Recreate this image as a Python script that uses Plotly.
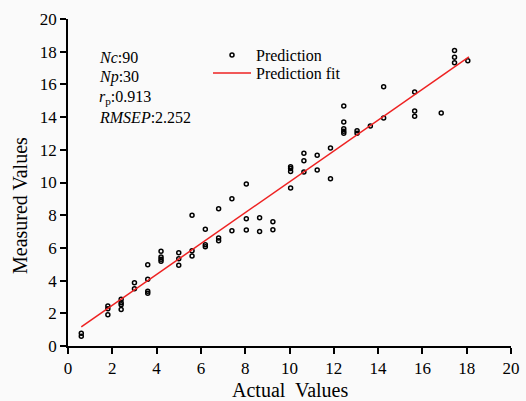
import plotly.graph_objects as go

actual = [0.6, 0.6,
          1.8, 1.8, 1.8,
          2.4, 2.4, 2.4, 2.4,
          3.0, 3.0,
          3.6, 3.6, 3.6, 3.6,
          4.2, 4.2, 4.2, 4.2,
          5.0, 5.0, 5.0,
          5.6, 5.6, 5.6,
          6.2, 6.2, 6.2,
          6.8, 6.8, 6.8,
          7.4, 7.4,
          8.05, 8.05, 8.05,
          8.65, 8.65,
          9.25, 9.25,
          10.05, 10.05, 10.05, 10.05,
          10.65, 10.65, 10.65,
          11.25, 11.25,
          11.85, 11.85,
          12.45, 12.45, 12.45, 12.45, 12.45,
          13.05, 13.05,
          13.65,
          14.25, 14.25,
          15.65, 15.65, 15.65,
          16.85,
          17.45, 17.45, 17.45,
          18.05]
measured = [0.78, 0.6,
            2.45, 2.28, 1.91,
            2.86, 2.65, 2.53, 2.24,
            3.87, 3.5,
            4.97, 4.08, 3.35, 3.22,
            5.8, 5.44, 5.3, 5.18,
            5.71, 5.34, 4.94,
            7.99, 5.83, 5.5,
            7.14, 6.2, 6.07,
            8.4, 6.6, 6.44,
            9.01, 7.05,
            9.91, 7.79, 7.1,
            7.84, 7.01,
            7.6, 7.11,
            10.97, 10.85, 10.68, 9.66,
            11.79, 11.33, 10.64,
            11.66, 10.76,
            12.11, 10.23,
            14.68, 13.7, 13.29, 13.13, 13.01,
            13.17, 13.01,
            13.46,
            15.86, 13.95,
            15.54, 14.37, 14.05,
            14.25,
            18.08, 17.66, 17.33,
            17.45]

fit_slope = 0.944
fit_intercept = 0.60
fit_x = [0.6, 18.1]
fit_y = [fit_intercept + fit_slope * v for v in fit_x]

x_ticks = list(range(0, 21, 2))
y_ticks = list(range(0, 21, 2))

stats_text = ["<i>Nc</i>:90", "<i>Np</i>:30", "<i>r</i><sub>p</sub>:0.913", "<i>RMSEP</i>:2.252"]

FONT = "Liberation Serif, Times New Roman, serif"

fig = go.Figure()
fig.add_trace(go.Scatter(
    x=actual, y=measured, mode="markers", name="Prediction", legend="legend",
    marker=dict(symbol="circle-open", size=4, color="black", line=dict(width=1.5, color="black")),
))
fig.add_trace(go.Scatter(
    x=fit_x, y=fit_y, mode="lines", name="Prediction fit", legend="legend2",
    line=dict(color="#ee2222", width=1.5),
))

# plot area spans x 68..511, y 19..346 in pixels
def px_x(p):
    return (p - 68) / 443

def px_y(p):
    return (346 - p) / 327

stat_y_px = [57, 77, 97, 117]
for t, ypx in zip(stats_text, stat_y_px):
    fig.add_annotation(
        x=px_x(97), y=px_y(ypx), xref="paper", yref="paper",
        text=t, showarrow=False, xanchor="left", yanchor="middle",
        font=dict(family=FONT, size=16, color="black"),
    )

fig.add_annotation(
    x=0.5, y=px_y(390), xref="paper", yref="paper",
    text="Actual  Values", showarrow=False, xanchor="center", yanchor="middle",
    font=dict(family=FONT, size=20, color="black"),
)
fig.add_annotation(
    x=px_x(20), y=px_y(206), xref="paper", yref="paper",
    text="Measured Values", showarrow=False, textangle=-90, xanchor="center", yanchor="middle",
    font=dict(family=FONT, size=20, color="black"),
)

axis_common = dict(
    showline=True, linecolor="black", linewidth=1.5,
    ticks="outside", ticklen=6, tickwidth=1.5, tickcolor="black",
    showgrid=False, zeroline=False, mirror=False, automargin=False,
    tickfont=dict(family=FONT, size=17, color="black"),
)

legend_common = dict(
    xanchor="left", yanchor="middle", bgcolor="rgba(0,0,0,0)",
    font=dict(family=FONT, size=16, color="black"),
    itemwidth=38,
)

fig.update_layout(
    width=526, height=401,
    margin=dict(l=68, r=15, t=19, b=55),
    paper_bgcolor="#fafafa", plot_bgcolor="#fafafa",
    font=dict(family=FONT, color="black"),
    showlegend=True,
    legend=dict(x=px_x(208), y=px_y(55), **legend_common),
    legend2=dict(x=px_x(208), y=px_y(73), **legend_common),
    xaxis=dict(range=[0, 20], tickvals=x_ticks, ticktext=[str(v) for v in x_ticks], **axis_common),
    yaxis=dict(range=[0, 20], tickvals=y_ticks, ticktext=[str(v) for v in y_ticks], **axis_common),
)

fig.write_html(
    "out.html",
    config={"displayModeBar": False},
    post_script="document.body.style.margin='0';document.body.style.background='#fafafa';",
)
